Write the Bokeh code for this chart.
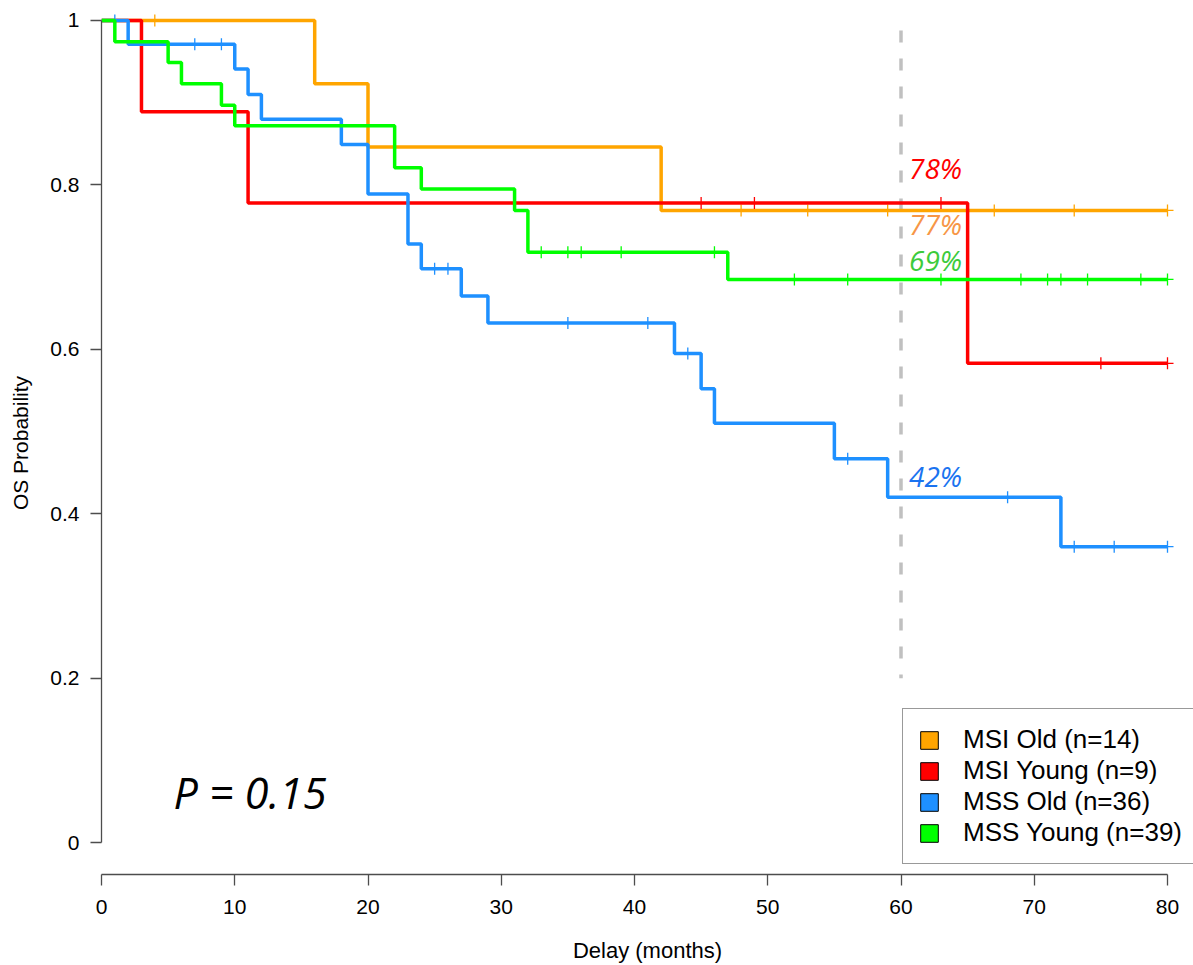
import numpy as np
from bokeh.plotting import figure
from bokeh.models import Range1d, FixedTicker, Legend, LegendItem, Label, ColumnDataSource
from bokeh.core.properties import value
from bokeh.embed import file_html
from bokeh.resources import INLINE

# ---------------- data ----------------
series_names = ["MSI Old (n=14)", "MSI Young (n=9)", "MSS Old (n=36)", "MSS Young (n=39)"]

msi_old_t = [0, 16, 20, 42, 80]
msi_old_s = [1.0, 0.923, 0.846, 0.769, 0.769]
msi_old_cens = [4, 48, 53, 59, 67, 73, 80]

msi_young_t = [0, 3, 11, 65, 80]
msi_young_s = [1.0, 0.889, 0.778, 0.583, 0.583]
msi_young_cens = [45, 49, 63, 75, 80]

mss_old_t = [0, 2, 10, 11, 12, 18, 20, 23, 24, 27, 29, 43, 45, 46, 55, 59, 72, 80]
mss_old_s = [1.0, 0.971, 0.941, 0.910, 0.880, 0.849, 0.789, 0.728, 0.698, 0.665,
             0.632, 0.595, 0.552, 0.510, 0.467, 0.420, 0.360, 0.360]
mss_old_cens = [1, 7, 9, 25, 26, 35, 41, 44, 56, 68, 73, 76, 80]

mss_young_t = [0, 1, 5, 6, 9, 10, 22, 24, 31, 32, 47, 80]
mss_young_s = [1.0, 0.974, 0.949, 0.923, 0.897, 0.872, 0.821, 0.795, 0.769, 0.718, 0.685, 0.685]
mss_young_cens = [33, 35, 36, 39, 46, 52, 56, 63, 69, 71, 72, 74, 78, 80]

landmark_month = 60
landmark_span = (1.0, 0.2)
landmark_labels = ["77%", "78%", "42%", "69%"]
p_value_text = "P = 0.15"

x_ticks = [0, 10, 20, 30, 40, 50, 60, 70, 80]
y_ticks = [0, 0.2, 0.4, 0.6, 0.8, 1.0]
y_tick_labels = ["0", "0.2", "0.4", "0.6", "0.8", "1"]

# ---------------- styles ----------------
line_colors = ["#FFA500", "#FF0000", "#1E90FF", "#00FF00"]
label_colors = ["#F79646", "#FF0000", "#1A73F0", "#3CCB3C"]
label_yoffsets = [14, -35, -21, -19]

times = [msi_old_t, msi_young_t, mss_old_t, mss_young_t]
survs = [msi_old_s, msi_young_s, mss_old_s, mss_young_s]
cens = [msi_old_cens, msi_young_cens, mss_old_cens, mss_young_cens]


def surv_at(t_list, s_list, t):
    val = s_list[0]
    for ti, si in zip(t_list, s_list):
        if ti <= t:
            val = si
    return val


px_per_month = 13.325
px_per_unit = 825.0
W, H = 1193, 965
bl, br, bt, bb = 101, 0, 11, 88
frame_w = W - bl - br
frame_h = H - bt - bb
x_end = frame_w / px_per_month
y_start = -32.0 / px_per_unit
y_end = y_start + frame_h / px_per_unit

p = figure(width=W, height=H, x_range=Range1d(0, x_end), y_range=Range1d(y_start, y_end),
           output_backend="svg", toolbar_location=None,
           min_border_left=bl, min_border_right=br, min_border_top=bt, min_border_bottom=bb)
p.xgrid.visible = False
p.ygrid.visible = False
p.outline_line_color = None
p.background_fill_color = "white"
p.border_fill_color = "white"

axis_col = "#4d4d4d"
for ax in (p.xaxis[0], p.yaxis[0]):
    ax.axis_line_color = axis_col
    ax.axis_line_width = 1.3
    ax.major_tick_line_color = axis_col
    ax.major_tick_line_width = 1.3
    ax.major_tick_out = 11
    ax.major_tick_in = 0
    ax.minor_tick_out = 0
    ax.minor_tick_in = 0
    ax.major_label_text_font = "Liberation Sans"
    ax.major_label_text_font_size = "21px"
    ax.major_label_text_color = "black"
    ax.axis_label_text_font = "Liberation Sans"
    ax.axis_label_text_font_size = "22px"
    ax.axis_label_text_font_style = "normal"
    ax.axis_label_text_color = "black"

xa = p.xaxis[0]
xa.bounds = (x_ticks[0], x_ticks[-1])
xa.ticker = FixedTicker(ticks=x_ticks)
xa.major_label_standoff = 14
xa.axis_label = "Delay (months)"
xa.axis_label_standoff = 21

ya = p.yaxis[0]
ya.bounds = (y_ticks[0], y_ticks[-1])
ya.ticker = FixedTicker(ticks=y_ticks)
ya.major_label_overrides = {t: l for t, l in zip(y_ticks, y_tick_labels)}
ya.major_label_standoff = 11
ya.axis_label = "OS Probability"
ya.axis_label_text_font_size = "21px"
ya.axis_label_standoff = 15

# landmark dashed line
p.segment(x0=[landmark_month], y0=[landmark_span[0]], x1=[landmark_month], y1=[landmark_span[1]],
          line_color="#C0C0C0", line_width=3.5, line_dash="12 16", line_dash_offset=18)

# curves
for t, s, c, col in zip(times, survs, cens, line_colors):
    p.step(x=t, y=s, mode="after", line_color=col, line_width=3.5)
    p.scatter(x=c, y=[surv_at(t, s, ci) for ci in c], marker="cross", size=12,
              line_color=col, line_width=1.3)

# landmark labels
lab_src = ColumnDataSource(dict(
    x=[landmark_month] * 4,
    y=[surv_at(t, s, landmark_month) for t, s in zip(times, survs)],
    text=landmark_labels,
    color=label_colors,
    yoff=label_yoffsets,
))
p.text(x="x", y="y", text="text", source=lab_src, text_color="color",
       text_font=value("Open Sans"), text_font_style="italic", text_font_size="28px",
       text_baseline="alphabetic", text_align="left", x_offset=8, y_offset="yoff")

# p-value
p.add_layout(Label(x=72, y=82, x_units="screen", y_units="screen", text=p_value_text,
                   text_font="Open Sans", text_font_style="italic", text_font_size="43px",
                   text_color="black", text_baseline="alphabetic"))

# legend
items = []
for name, col in zip(series_names, line_colors):
    r = p.quad(left=[np.nan], right=[np.nan], top=[np.nan], bottom=[np.nan],
               fill_color=col, line_color="black", line_width=1)
    items.append(LegendItem(label=name, renderers=[r]))
legend = Legend(items=items, location=(801, 10), padding=15, spacing=0, margin=0,
                label_text_font="Liberation Sans", label_text_font_size="26px",
                label_text_color="black", label_height=30, glyph_height=22, glyph_width=22,
                label_standoff=23, border_line_color="#333333", border_line_width=1.2,
                background_fill_color="white", background_fill_alpha=1.0)
p.add_layout(legend)

open("out.html", "w").write(file_html(p, INLINE))
